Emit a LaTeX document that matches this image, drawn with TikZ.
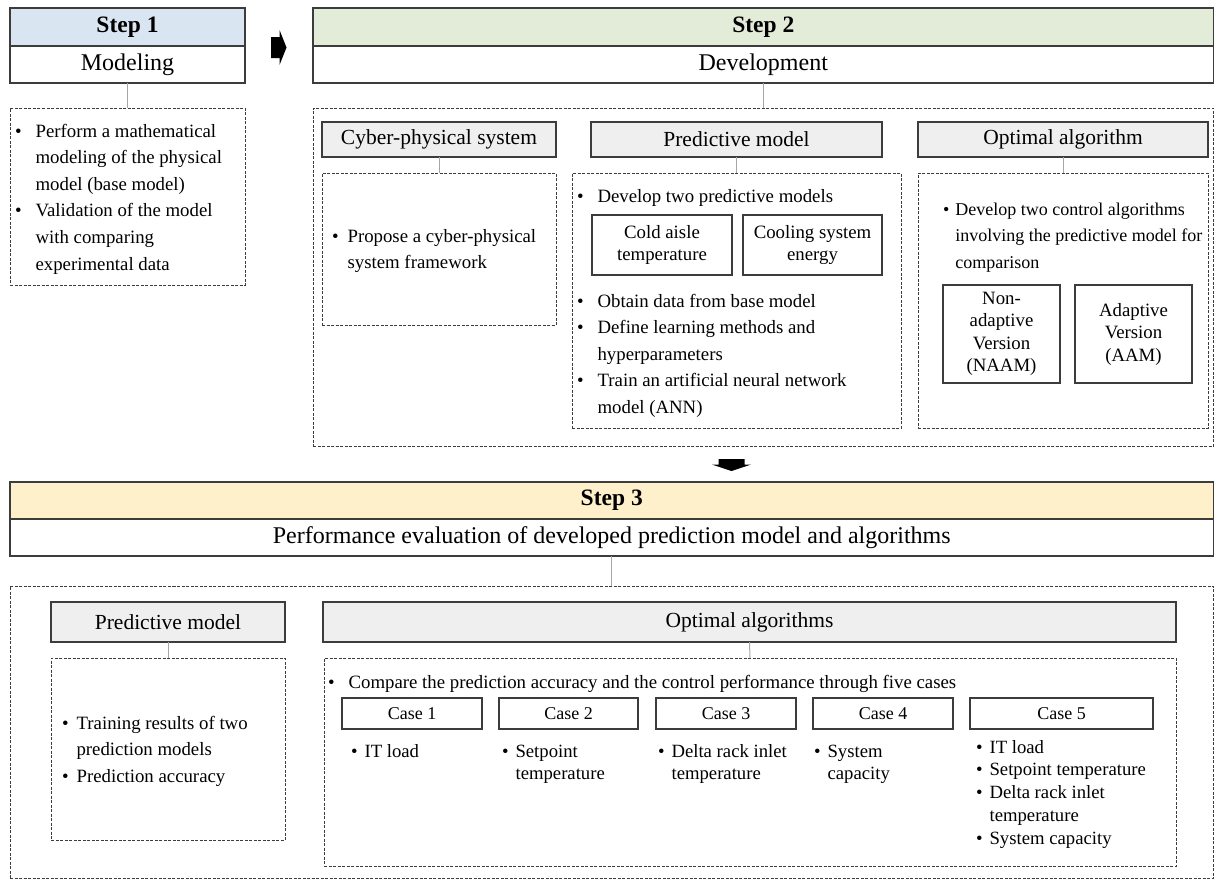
\documentclass[tikz,border=0pt]{standalone}
\usepackage{fontspec}
\setmainfont{Liberation Serif}

\definecolor{edge}{HTML}{3C3C3C}
\definecolor{linkgray}{HTML}{A6A6A6}
\definecolor{stepblue}{HTML}{DAE5F2}
\definecolor{stepgreen}{HTML}{E3ECD8}
\definecolor{stepyellow}{HTML}{FEF0CA}
\definecolor{subgray}{HTML}{EFEFEF}

% bullet list: bullet column + text column, one row per printed line;
% optional argument = gap between bullet and text
\newcommand\blist[2][8pt]{\begin{tabular}[t]{@{}l@{\hspace{#1}}l@{}}#2\end{tabular}}

\tikzset{
  % rectangle given by its corners x1,y1,x2,y2
  span/.style n args={4}{minimum width={(#3-#1)*1pt}, minimum height={(#4-#2)*1pt},
                         at={({(#1+#3)/2},{(#2+#4)/2})}},
  box/.style={draw=edge, line width=1.3pt, inner sep=0pt, outer sep=0pt, anchor=center},
  mainhead/.style={box, font=\fontsize{23.5}{26}\selectfont\bfseries},
  maintitle/.style={box, fill=white, font=\fontsize{24}{26}\selectfont},
  subhead/.style={box, fill=subgray, font=\fontsize{21.5}{24}\selectfont},
  dashbox/.style={draw=edge, line width=1pt, dash pattern=on 3pt off 1.5pt,
                  inner sep=0pt, outer sep=0pt, anchor=center},
  itembox/.style={box, line width=1.2pt, align=center,
                  font=\fontsize{18.8}{22.5}\selectfont},
  casebox/.style={box, line width=1.2pt, font=\fontsize{18}{22}\selectfont},
  listtext/.style={anchor=base west, inner sep=0pt, outer sep=0pt,
                   font=\fontsize{18.8}{26.6}\selectfont},
  caselist/.style={listtext, font=\fontsize{18.7}{22.8}\selectfont},
  link/.style={draw=linkgray, line width=1pt},
  flowarrow/.style={fill=black, draw=none},
}

\begin{document}
\begin{tikzpicture}[x=1pt, y=-1pt]
\useasboundingbox (0,0) rectangle (1215,881);

% ---------------- Step 1 ----------------
\node[mainhead, fill=stepblue, span={10}{8}{245}{46}] (s1head) {Step 1};
\node[maintitle, span={10}{46}{245}{83}] (s1title) {Modeling};
\node[dashbox, span={10}{108}{245}{285}] (s1body) {};
\draw[link] (s1title.south) -- (s1body.north);
\node[listtext] (s1list) at (15,137) {\blist[14pt]{%
  \textbullet & Perform a mathematical\\
              & modeling of the physical\\
              & model (base model)\\
  \textbullet & Validation of the model\\
              & with comparing\\
              & experimental data}};

% arrow from step 1 to step 2
\fill[flowarrow] (271,37) -- (279.5,37) -- (279.5,30) -- (286.5,47.5)
  -- (279.5,65) -- (279.5,58) -- (271,58) -- cycle;

% ---------------- Step 2 ----------------
\node[mainhead, fill=stepgreen, span={313}{8}{1213.5}{46}] (s2head) {Step 2};
\node[maintitle, span={313}{46}{1213.5}{83}] (s2title) {Development};
\node[dashbox, span={313}{108}{1213.5}{446}] (s2body) {};
\draw[link] (s2title.south) -- (s2body.north);

% cyber-physical system
\node[subhead, span={322}{122}{556}{157}] (cpshead) {Cyber-physical system};
\node[dashbox, span={322}{173}{556}{325}] (cpsbody) {};
\draw[link] (cpshead.south) -- (cpsbody.north);
\node[listtext] (cpslist) at (332,242) {\blist[9pt]{%
  \textbullet & Propose a cyber-physical\\
              & system framework}};

% predictive model
\node[subhead, span={591}{122}{882}{157}] (pmhead) {Predictive model};
\node[dashbox, span={572}{173}{901}{428}] (pmbody) {};
\draw[link] (pmhead.south) -- (pmbody.north);
\node[listtext] (pmlistA) at (577,202) {\blist[14pt]{%
  \textbullet & Develop two predictive models}};
\node[itembox, span={592}{215}{732}{275}] (coldaisle) {Cold aisle\\temperature};
\node[itembox, span={743}{215}{882}{275}] (coolenergy) {Cooling system\\energy};
\node[listtext] (pmlistB) at (577,307) {\blist[14pt]{%
  \textbullet & Obtain data from base model\\
  \textbullet & Define learning methods and\\
              & hyperparameters\\
  \textbullet & Train an artificial neural network\\
              & model (ANN)}};

% optimal algorithm
\node[subhead, span={918}{122}{1208}{157}] (oahead) {Optimal algorithm};
\node[dashbox, span={918}{173}{1208}{428}] (oabody) {};
\draw[link] (oahead.south) -- (oabody.north);
\node[listtext, font=\fontsize{18}{26.6}\selectfont] (oalist) at (943,215) {\blist[6pt]{%
  \textbullet & Develop two control algorithms\\
              & involving the predictive model for\\
              & comparison}};
\node[itembox, span={943}{285}{1060}{383}] (naam) {Non-\\adaptive\\Version\\(NAAM)};
\node[itembox, span={1075}{285}{1192}{383}] (aam) {Adaptive\\Version\\(AAM)};

% arrow from step 2 to step 3
\fill[flowarrow] (718.5,459) -- (744.5,459) -- (744.5,464.5) -- (751,464.5)
  -- (731.5,471) -- (712,464.5) -- (718.5,464.5) -- cycle;

% ---------------- Step 3 ----------------
\node[mainhead, fill=stepyellow, span={10}{482}{1213.5}{519}] (s3head) {Step 3};
\node[maintitle, span={10}{519}{1213.5}{556}] (s3title)
  {Performance evaluation of developed prediction model and algorithms};
\node[dashbox, span={10}{586}{1213.5}{878}] (s3body) {};
\draw[link] (s3title.south) -- (s3body.north);

% predictive model evaluation
\node[subhead, span={51}{602}{285}{642}] (evpmhead) {Predictive model};
\node[dashbox, span={51}{658}{285}{840}] (evpmbody) {};
\draw[link] (evpmhead.south) -- (evpmbody.north);
\node[listtext] (evpmlist) at (62,729) {\blist[8pt]{%
  \textbullet & Training results of two\\
              & prediction models\\
  \textbullet & Prediction accuracy}};

% optimal algorithms evaluation
\node[subhead, span={323}{602}{1176}{642}] (evoahead) {Optimal algorithms};
\node[dashbox, span={324}{658}{1176}{866}] (evoabody) {};
\draw[link] (evoahead.south) -- (evoabody.north);
\node[listtext] (cmplist) at (328,688) {\blist[14pt]{%
  \textbullet & Compare the prediction accuracy and the control performance through five cases}};

\node[casebox, span={342}{698}{482}{729}] (case1) {Case 1};
\node[casebox, span={499}{698}{638}{729}] (case2) {Case 2};
\node[casebox, span={656}{698}{796}{729}] (case3) {Case 3};
\node[casebox, span={813}{698}{953}{729}] (case4) {Case 4};
\node[casebox, span={970}{698}{1153}{729}] (case5) {Case 5};

\node[caselist] (case1list) at (351,757) {\blist[7pt]{%
  \textbullet & IT load}};
\node[caselist] (case2list) at (502,757) {\blist[7pt]{%
  \textbullet & Setpoint\\
              & temperature}};
\node[caselist] (case3list) at (658,757) {\blist[7pt]{%
  \textbullet & Delta rack inlet\\
              & temperature}};
\node[caselist] (case4list) at (814,757) {\blist[7pt]{%
  \textbullet & System\\
              & capacity}};
\node[caselist] (case5list) at (976,753) {\blist[7pt]{%
  \textbullet & IT load\\
  \textbullet & Setpoint temperature\\
  \textbullet & Delta rack inlet\\
              & temperature\\
  \textbullet & System capacity}};

\end{tikzpicture}
\end{document}
